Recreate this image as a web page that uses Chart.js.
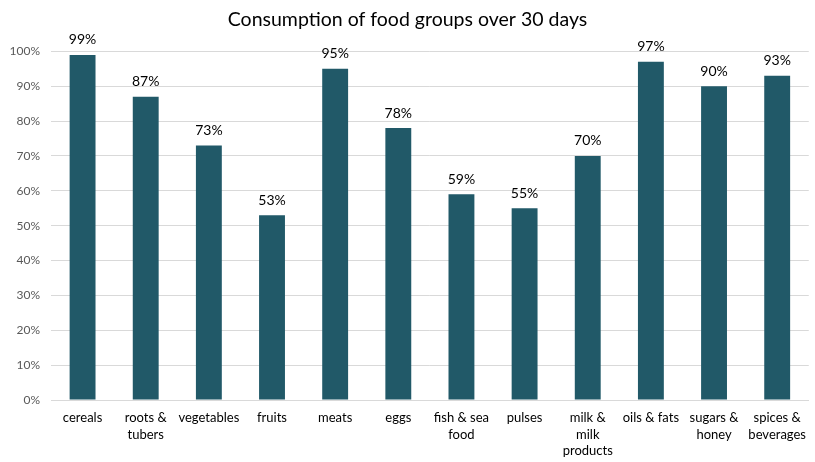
<!DOCTYPE html>
<html>
<head>
<meta charset="utf-8">
<script src="https://cdn.jsdelivr.net/npm/chart.js@4"></script>
<style>
  html, body { margin: 0; padding: 0; background: #fff; }
  #wrap { width: 815px; height: 462px; }
</style>
</head>
<body>
<div id="wrap"><canvas id="barchart"></canvas></div>
<script>
const categories = [
  'cereals', ['roots &', 'tubers'], 'vegetables', 'fruits', 'meats', 'eggs',
  ['fish & sea', 'food'], 'pulses', ['milk &', 'milk', 'products'], 'oils & fats',
  ['sugars &', 'honey'], ['spices &', 'beverages']
];
const consumption = [99, 87, 73, 53, 95, 78, 59, 55, 70, 97, 90, 93];
const yTicks = [0, 10, 20, 30, 40, 50, 60, 70, 80, 90, 100];

const FONT = 'Lato, "Open Sans", sans-serif';

// value labels drawn above each bar
const valueLabels = {
  id: 'valueLabels',
  afterDatasetsDraw(chart) {
    const ctx = chart.ctx;
    const meta = chart.getDatasetMeta(0);
    ctx.save();
    ctx.font = '14px ' + FONT;
    ctx.fillStyle = '#000';
    ctx.textAlign = 'center';
    ctx.textBaseline = 'bottom';
    meta.data.forEach((bar, i) => {
      ctx.fillText(consumption[i] + '%', bar.x, bar.y - 8);
    });
    ctx.restore();
  }
};

const ctx = document.getElementById('barchart');

new Chart(ctx, {
  type: 'bar',
  data: {
    labels: categories,
    datasets: [{
      data: consumption,
      backgroundColor: '#215968',
      categoryPercentage: 1,
      barPercentage: 0.41
    }]
  },
  options: {
    responsive: true,
    maintainAspectRatio: false,
    animation: false,
    layout: { padding: { left: 0, right: 0, top: 0, bottom: 0 } },
    plugins: {
      legend: { display: false },
      tooltip: { enabled: false },
      title: {
        display: true,
        text: 'Consumption of food groups over 30 days',
        color: '#000',
        font: { family: FONT, size: 19.5, weight: 'normal' },
        padding: { top: 8, bottom: 20 }
      }
    },
    scales: {
      x: {
        grid: { display: false, drawTicks: false },
        border: { color: '#d9d9d9' },
        ticks: {
          color: '#000',
          font: { family: FONT, size: 13, lineHeight: 1.3 },
          padding: 9,
          maxRotation: 0,
          autoSkip: false
        },
        afterFit(scale) { scale.height = 62; }
      },
      y: {
        min: 0,
        max: 100,
        afterBuildTicks(scale) { scale.ticks = yTicks.map(v => ({ value: v })); },
        grid: { color: '#d9d9d9', drawTicks: false },
        border: { display: false },
        ticks: {
          color: '#595959',
          font: { family: FONT, size: 12 },
          padding: 11,
          callback: v => v + '%'
        },
        afterFit(scale) { scale.width = 51; }
      }
    }
  },
  plugins: [valueLabels]
});
</script>
</body>
</html>
